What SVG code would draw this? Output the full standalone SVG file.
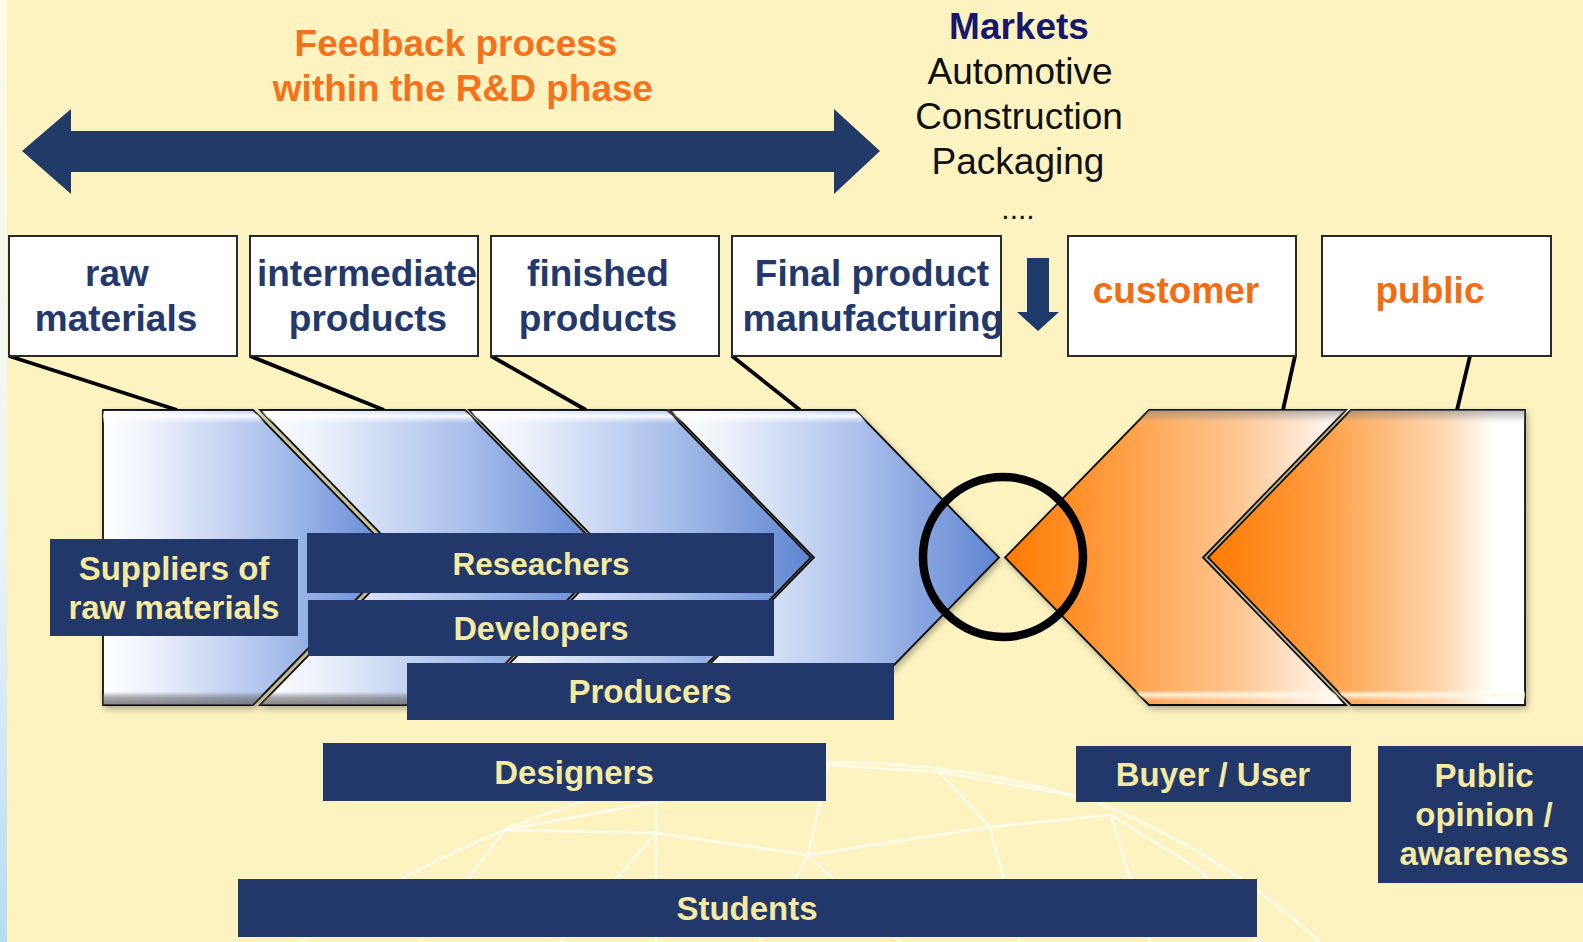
<svg xmlns="http://www.w3.org/2000/svg" width="1583" height="942" viewBox="0 0 1583 942">
<defs>
<linearGradient id="bgStrip" x1="0" y1="0" x2="0" y2="1">
<stop offset="0" stop-color="#fdfbe6"/><stop offset="0.55" stop-color="#eef5f6"/><stop offset="1" stop-color="#b6dcf6"/>
</linearGradient>
<linearGradient id="blueG" x1="0" y1="0" x2="1" y2="0">
<stop offset="0" stop-color="#ffffff"/><stop offset="0.2" stop-color="#e8eefa"/><stop offset="0.6" stop-color="#a7bdea"/><stop offset="1" stop-color="#5e84d1"/>
</linearGradient>
<linearGradient id="orangeG1" x1="0" y1="0" x2="1" y2="0">
<stop offset="0" stop-color="#ff7a00"/><stop offset="0.3" stop-color="#ff9a3c"/><stop offset="0.7" stop-color="#ffc896"/><stop offset="1" stop-color="#ffffff"/>
</linearGradient>
<linearGradient id="orangeG2" x1="0" y1="0" x2="1" y2="0">
<stop offset="0" stop-color="#ff7a00"/><stop offset="0.35" stop-color="#ff9c40"/><stop offset="0.75" stop-color="#ffd9b4"/><stop offset="0.9" stop-color="#ffffff"/><stop offset="1" stop-color="#ffffff"/>
</linearGradient>
<linearGradient id="bevelBlue" x1="0" y1="0" x2="0" y2="1">
<stop offset="0" stop-color="#ffffff" stop-opacity="0"/><stop offset="0.02" stop-color="#ffffff" stop-opacity="0.9"/><stop offset="0.045" stop-color="#ffffff" stop-opacity="0"/><stop offset="0.955" stop-color="#606060" stop-opacity="0"/><stop offset="0.975" stop-color="#707070" stop-opacity="0.6"/><stop offset="1" stop-color="#505050" stop-opacity="0.7"/>
</linearGradient>
<linearGradient id="bevelOrange" x1="0" y1="0" x2="0" y2="1">
<stop offset="0" stop-color="#808080" stop-opacity="0.6"/><stop offset="0.03" stop-color="#909090" stop-opacity="0.2"/><stop offset="0.05" stop-color="#ffffff" stop-opacity="0"/><stop offset="0.95" stop-color="#ffffff" stop-opacity="0"/><stop offset="0.965" stop-color="#fff8e0" stop-opacity="0.9"/><stop offset="0.985" stop-color="#ffffff" stop-opacity="0"/>
</linearGradient>
<filter id="shadow" x="-10%" y="-10%" width="120%" height="125%">
<feDropShadow dx="2" dy="3" stdDeviation="3" flood-color="#000" flood-opacity="0.3"/>
</filter>
<style>
.lbl{fill:#ffffff;stroke:#2a2a2a;stroke-width:2}
.lt{font-family:"Liberation Sans",Arial,sans-serif;font-weight:bold;font-size:37px;fill:#24396b;text-anchor:middle}
.ot{font-family:"Liberation Sans",Arial,sans-serif;font-weight:bold;font-size:37px;fill:#f26c14;text-anchor:middle}
.nb{fill:#22386a}
.nt{font-family:"Liberation Sans",Arial,sans-serif;font-weight:bold;font-size:33px;fill:#f4eaa2;text-anchor:middle}
.mk{font-family:"Liberation Sans",Arial,sans-serif;font-size:37px;fill:#111111;text-anchor:middle}
.chev{stroke:#111;stroke-width:1.8;stroke-linejoin:miter}
.conn{stroke:#000;stroke-width:3.8;fill:none}
.dome{stroke:#ffffff;stroke-opacity:0.55;stroke-width:3;fill:none}
</style>
</defs>

<rect x="0" y="0" width="1583" height="942" fill="#fdf3c1"/>
<rect x="0" y="0" width="7" height="942" fill="url(#bgStrip)"/>

<g id="background-dome">
<path class="dome" d="M300,942 Q520,790 760,765 Q930,752 1090,800 Q1220,850 1320,942"/>
<path class="dome" d="M420,942 L505,830 L656,802 L828,765 L939,772 L1100,800"/>
<path class="dome" d="M505,830 L656,833 L808,855 L990,827 L1111,815 L1200,870"/>
<path class="dome" d="M656,802 L656,942 M656,833 L560,942 M808,855 L828,765 M808,855 L760,942 M808,855 L900,942 M990,827 L939,772 M990,827 L1020,942 M1111,815 L1150,942 M1200,870 L1260,942"/>
</g>

<g id="feedback-arrow">
<path d="M22,151 L71,109 L71,131 L834,131 L834,109 L880,151 L834,194 L834,172 L71,172 L71,194 Z" fill="#213a68"/>
<text class="ot" x="456" y="56" style="fill:#f5721c">Feedback process</text>
<text class="ot" x="463" y="101" style="fill:#f5721c">within the R&amp;D phase</text>
</g>

<g id="markets">
<text class="mk" x="1019" y="39" style="font-weight:bold;fill:#16186b">Markets</text>
<text class="mk" x="1020" y="84">Automotive</text>
<text class="mk" x="1019" y="129">Construction</text>
<text class="mk" x="1018" y="174">Packaging</text>
<text class="mk" x="1018" y="219" style="font-size:30px">....</text>
<path d="M1027,258 H1049 V312 H1059 L1038,331 L1017,312 H1027 Z" fill="#1d3a6a"/>
</g>

<g id="connectors">
<line class="conn" x1="9" y1="356" x2="177" y2="410"/>
<line class="conn" x1="250" y1="356" x2="384" y2="410"/>
<line class="conn" x1="491" y1="356" x2="586" y2="410"/>
<line class="conn" x1="732" y1="356" x2="800" y2="410"/>
<line class="conn" x1="1295" y1="356" x2="1283" y2="410"/>
<line class="conn" x1="1470" y1="356" x2="1457" y2="410"/>
</g>

<g id="chevrons" filter="url(#shadow)">
<g id="chev-raw">
<path class="chev" d="M103,410 H253 L397,557.5 L253,705 H103 Z" fill="url(#blueG)"/>
<path d="M103,410 H253 L397,557.5 L253,705 H103 Z" fill="url(#bevelBlue)"/>
</g>
<g id="chev-intermediate">
<path class="chev" d="M260,410 H465 L609,557.5 L465,705 H260 L404,557.5 Z" fill="url(#blueG)"/>
<path d="M260,410 H465 L609,557.5 L465,705 H260 L404,557.5 Z" fill="url(#bevelBlue)"/>
</g>
<g id="chev-finished">
<path class="chev" d="M469,410 H667 L811,557.5 L667,705 H469 L613,557.5 Z" fill="url(#blueG)"/>
<path d="M469,410 H667 L811,557.5 L667,705 H469 L613,557.5 Z" fill="url(#bevelBlue)"/>
</g>
<g id="chev-final">
<path class="chev" d="M670,410 H855 L999,557.5 L855,705 H670 L814,557.5 Z" fill="url(#blueG)"/>
<path d="M670,410 H855 L999,557.5 L855,705 H670 L814,557.5 Z" fill="url(#bevelBlue)"/>
</g>
<g id="chev-customer">
<path class="chev" d="M1149,410 H1346 L1203,557.5 L1346,705 H1149 L1005,557.5 Z" fill="url(#orangeG1)"/>
<path d="M1149,410 H1346 L1203,557.5 L1346,705 H1149 L1005,557.5 Z" fill="url(#bevelOrange)"/>
</g>
<g id="chev-public">
<path class="chev" d="M1351,410 H1525 V705 H1351 L1208,557.5 Z" fill="url(#orangeG2)"/>
<path d="M1351,410 H1525 V705 H1351 L1208,557.5 Z" fill="url(#bevelOrange)"/>
</g>
</g>

<g id="interface-circle">
<circle cx="1003" cy="557" r="80" fill="none" stroke="#000" stroke-width="8.5"/>
</g>

<g id="label-raw">
<rect class="lbl" x="9" y="236" width="228" height="120"/>
<text class="lt" x="117" y="286">raw</text>
<text class="lt" x="116" y="331">materials</text>
</g>
<g id="label-intermediate">
<rect class="lbl" x="250" y="236" width="228" height="120"/>
<text class="lt" x="367" y="286">intermediate</text>
<text class="lt" x="368" y="331">products</text>
</g>
<g id="label-finished">
<rect class="lbl" x="491" y="236" width="228" height="120"/>
<text class="lt" x="598" y="286">finished</text>
<text class="lt" x="598" y="331">products</text>
</g>
<g id="label-final">
<rect class="lbl" x="732" y="236" width="269" height="120"/>
<text class="lt" x="872" y="286">Final product</text>
<text class="lt" x="873" y="331" textLength="261" lengthAdjust="spacingAndGlyphs">manufacturing</text>
</g>
<g id="label-customer">
<rect class="lbl" x="1068" y="236" width="228" height="120"/>
<text class="ot" x="1176" y="303">customer</text>
</g>
<g id="label-public">
<rect class="lbl" x="1322" y="236" width="229" height="120"/>
<text class="ot" x="1430" y="303">public</text>
</g>

<g id="box-suppliers">
<rect class="nb" x="50" y="539" width="248" height="97"/>
<text class="nt" x="174" y="580">Suppliers of</text>
<text class="nt" x="174" y="619">raw materials</text>
</g>
<g id="box-researchers">
<rect class="nb" x="307" y="533" width="467" height="60"/>
<text class="nt" x="541" y="575" style="font-size:31.5px">Reseachers</text>
</g>
<g id="box-developers">
<rect class="nb" x="308" y="600" width="466" height="56"/>
<text class="nt" x="541" y="640" style="font-size:32.5px">Developers</text>
</g>
<g id="box-producers">
<rect class="nb" x="407" y="663" width="487" height="57"/>
<text class="nt" x="650" y="703">Producers</text>
</g>
<g id="box-designers">
<rect class="nb" x="323" y="743" width="503" height="58"/>
<text class="nt" x="574" y="784">Designers</text>
</g>
<g id="box-students">
<rect class="nb" x="238" y="879" width="1019" height="58"/>
<text class="nt" x="747" y="920">Students</text>
</g>
<g id="box-buyer">
<rect class="nb" x="1076" y="746" width="275" height="56"/>
<text class="nt" x="1213" y="786">Buyer / User</text>
</g>
<g id="box-public-opinion">
<rect class="nb" x="1378" y="746" width="205" height="137"/>
<text class="nt" x="1484" y="787">Public</text>
<text class="nt" x="1484" y="826">opinion /</text>
<text class="nt" x="1484" y="865">awareness</text>
</g>
</svg>
